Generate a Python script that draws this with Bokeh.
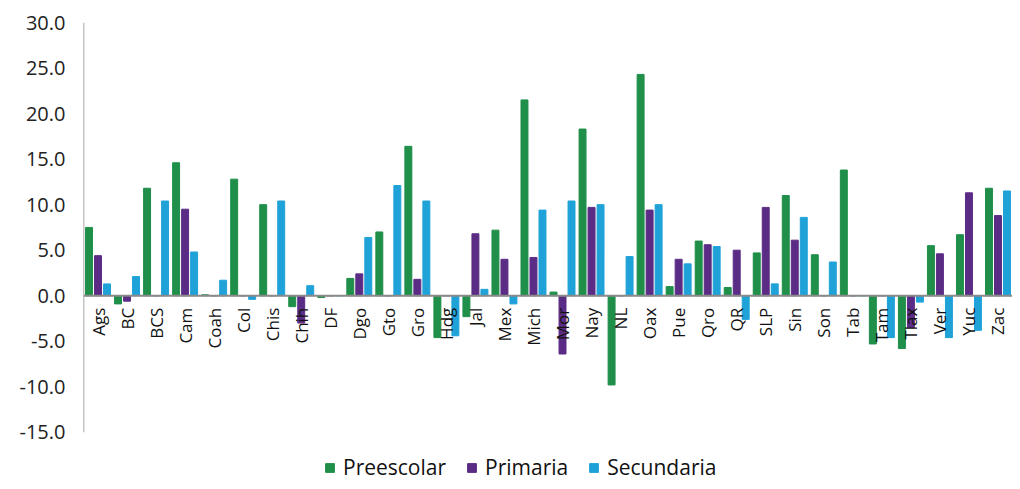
from bokeh.plotting import figure
from bokeh.models import (ColumnDataSource, FactorRange, Range1d, FixedTicker,
                          NumeralTickFormatter, Span, Legend, LegendItem)
from bokeh.transform import dodge
from bokeh.core.properties import value
from bokeh.embed import file_html
from bokeh.resources import INLINE

states = ["Ags", "BC", "BCS", "Cam", "Coah", "Col", "Chis", "Chih", "DF", "Dgo",
          "Gto", "Gro", "Hdg", "Jal", "Mex", "Mich", "Mor", "Nay", "NL", "Oax",
          "Pue", "Qro", "QR", "SLP", "Sin", "Son", "Tab", "Tam", "Tlax", "Ver",
          "Yuc", "Zac"]
preescolar = [7.5, -0.9, 11.8, 14.6, 0.1, 12.8, 10.0, -1.2, -0.2, 1.9,
              7.0, 16.4, -4.6, -2.3, 7.2, 21.5, 0.4, 18.3, -9.8, 24.3,
              1.0, 6.0, 0.9, 4.7, 11.0, 4.5, 13.8, -5.3, -5.8, 5.5,
              6.7, 11.8]
primaria = [4.4, -0.6, 0.0, 9.5, 0.0, 0.0, 0.0, -3.0, 0.0, 2.4,
            0.0, 1.8, 0.0, 6.8, 4.0, 4.2, -6.4, 9.7, 0.0, 9.4,
            4.0, 5.6, 5.0, 9.7, 6.1, 0.0, 0.0, 0.0, -3.5, 4.6,
            11.3, 8.8]
secundaria = [1.3, 2.1, 10.4, 4.8, 1.7, -0.4, 10.4, 1.1, 0.0, 6.4,
              12.1, 10.4, -4.4, 0.7, -0.9, 9.4, 10.4, 10.0, 4.3, 10.0,
              3.5, 5.4, -2.6, 1.3, 8.6, 3.7, 0.0, -4.6, -0.7, -4.6,
              -3.8, 11.5]
series_names = ["Preescolar", "Primaria", "Secundaria"]
colors = ["#1f8f4a", "#5b2c85", "#1fa2d8"]
y_ticks = [-15, -10, -5, 0, 5, 10, 15, 20, 25, 30]
y_min, y_max = -15, 30

source = ColumnDataSource(dict(state=states, pre=preescolar, pri=primaria,
                               sec=secundaria, zero=[0] * len(states)))

# frame spans the whole height; the lower part hosts the legend
p = figure(x_range=FactorRange(factors=states), y_range=Range1d(-20.4, y_max),
           width=1012, height=481, output_backend="svg", toolbar_location=None,
           x_axis_location=None, min_border_left=83, min_border_right=0,
           min_border_top=22, min_border_bottom=0)
p.outline_line_color = None
p.xgrid.visible = False
p.ygrid.visible = False
p.background_fill_color = "white"

font = "Open Sans"
ax = p.yaxis[0]
ax.ticker = FixedTicker(ticks=y_ticks)
ax.formatter = NumeralTickFormatter(format="0.0")
ax.major_tick_line_color = None
ax.minor_tick_line_color = None
ax.major_tick_out = 0
ax.major_tick_in = 0
ax.major_label_standoff = 18
ax.axis_line_color = None
ax.major_label_text_font = font
ax.major_label_text_font_size = "20px"
ax.major_label_text_color = "#222222"

# visible vertical axis line from -15 to 30 at the left edge of the frame
p.segment(x0=[0], y0=[y_min], x1=[0], y1=[y_max], line_color="#8a8a8a",
          line_width=1.5)

offsets = [-0.31, 0.0, 0.31]
fields = ["pre", "pri", "sec"]
renderers = []
for f, off, c in zip(fields, offsets, colors):
    r = p.vbar(x=dodge("state", off, range=p.x_range), top=f, bottom=0,
               width=0.24, source=source, fill_color=c, line_color=c)
    renderers.append(r)

p.add_layout(Span(location=0, dimension="width", line_color="#8a8a8a",
                  line_width=2))

p.text(x="state", y="zero", text="state", source=source, angle=1.5708,
       text_align="right", text_baseline="middle", y_offset=12,
       text_font=value(font), text_font_size="17px", text_color="#111111")

legend = Legend(items=[LegendItem(label=n, renderers=[r])
                       for n, r in zip(series_names, renderers)],
                orientation="horizontal", location=(241, 0),
                label_text_font=font, label_text_font_size="21px",
                label_text_color="#111111", glyph_width=11, glyph_height=11,
                spacing=20, label_standoff=8, border_line_color=None,
                background_fill_alpha=0, margin=0, padding=2,
                label_height=22)
p.add_layout(legend)

open("out.html", "w").write(file_html(p, INLINE))
